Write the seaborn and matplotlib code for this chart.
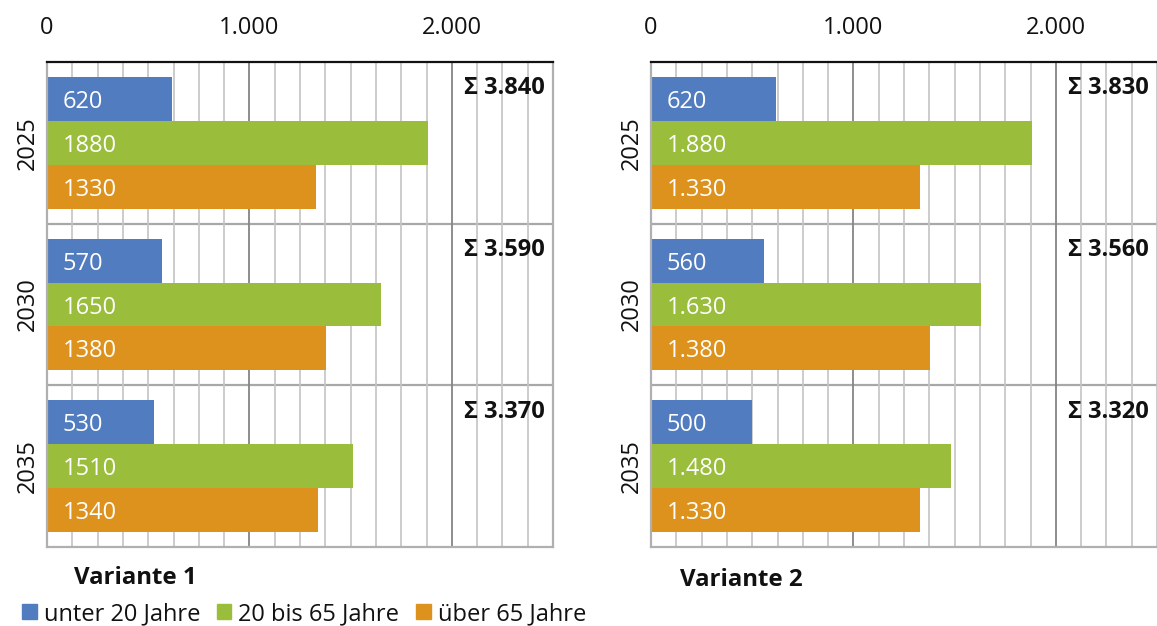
import matplotlib
matplotlib.use("Agg")
import matplotlib.pyplot as plt
from matplotlib.ticker import MultipleLocator, FixedLocator
import seaborn as sns
import pandas as pd

# ---- data ----
years = ["2025", "2030", "2035"]
groups = ["unter 20 Jahre", "20 bis 65 Jahre", "über 65 Jahre"]
colors = ["#517CC0", "#9ABD3C", "#DE921E"]

v1_unter20 = [620, 570, 530]
v1_20bis65 = [1880, 1650, 1510]
v1_ueber65 = [1330, 1380, 1340]
v1_sum = ["Σ 3.840", "Σ 3.590", "Σ 3.370"]

v2_unter20 = [620, 560, 500]
v2_20bis65 = [1880, 1630, 1480]
v2_ueber65 = [1330, 1380, 1330]
v2_sum = ["Σ 3.830", "Σ 3.560", "Σ 3.320"]

xtick_vals = [0, 1000, 2000]
xtick_labels = ["0", "1.000", "2.000"]
titles = ["Variante 1", "Variante 2"]

sns.set_theme(style="white")
plt.rcParams["font.family"] = ["Open Sans", "DejaVu Sans"]

FS = 17
W, H = 1157, 626
fig = plt.figure(figsize=(W / 100, H / 100), dpi=100)

def frame(vals_a, vals_b, vals_c):
    rows = []
    for g, vals in zip(groups, [vals_a, vals_b, vals_c]):
        for y, v in zip(years, vals):
            rows.append({"Jahr": y, "Gruppe": g, "Wert": v})
    return pd.DataFrame(rows)

def fmt_plain(v):
    return f"{v}"

def fmt_dot(v):
    return f"{v:,}".replace(",", ".")

panels = [
    (frame(v1_unter20, v1_20bis65, v1_ueber65), v1_sum, fmt_plain, 47),
    (frame(v2_unter20, v2_20bis65, v2_ueber65), v2_sum, fmt_dot, 651),
]

ax_w = (553 - 47) / W
ax_b = 1 - 547 / H
ax_h = (547 - 62) / H
axes = []
for i, (df, sums, fmt, left_px) in enumerate(panels):
    ax = fig.add_axes([left_px / W, ax_b, ax_w, ax_h])
    axes.append(ax)
    sns.barplot(data=df, y="Jahr", x="Wert", hue="Gruppe", order=years,
                hue_order=groups, palette=colors, orient="h", width=0.815,
                gap=0, saturation=1, errorbar=None, linewidth=0, ax=ax)
    ax.set_xlim(0, 2500)
    ax.set_ylim(2.5, -0.5)
    ax.set_axisbelow(True)
    # x ticks on top
    ax.xaxis.tick_top()
    ax.xaxis.set_major_locator(FixedLocator(xtick_vals))
    ax.set_xticklabels(xtick_labels, fontsize=FS, color="#111111")
    ax.xaxis.set_minor_locator(MultipleLocator(125))
    ax.tick_params(axis="x", which="both", length=0, pad=16)
    ax.grid(axis="x", which="minor", color="#c4c4c4", linewidth=1.2)
    ax.grid(axis="x", which="major", color="#858585", linewidth=1.3)
    ax.set_xlabel("")
    ax.set_ylabel("")
    ax.set_yticks(range(len(years)))
    ax.set_yticklabels(years, rotation=90, va="center", fontsize=FS, color="#111111")
    ax.tick_params(axis="y", length=0, pad=5)
    for yb in [0.5, 1.5]:
        ax.axhline(yb, color="#a8a8a8", linewidth=1.6, zorder=0.5)
    for s in ["left", "bottom", "right"]:
        ax.spines[s].set_color("#b0b0b0")
        ax.spines[s].set_linewidth(1.6)
    ax.spines["top"].set_color("#111111")
    ax.spines["top"].set_linewidth(1.6)
    if i == 1:
        ax.spines["right"].set_visible(False)
    # value labels inside bars
    for cont in ax.containers:
        for patch, val in zip(cont.patches, cont.datavalues):
            cy = patch.get_y() + patch.get_height() / 2
            ax.text(78, cy, fmt(int(val)), color="white", fontsize=FS,
                    va="center_baseline", ha="left")
    # sum labels
    for k, s in enumerate(sums):
        ax.text(2460, k - 0.5 + 0.145, s, fontsize=FS, fontweight="bold",
                ha="right", va="center_baseline", color="#111111")
    if ax.get_legend() is not None:
        ax.get_legend().remove()

fig.text(74 / W, 1 - 578 / H, titles[0], fontsize=FS + 0.3, fontweight="bold",
         ha="left", va="center", color="#111111")
fig.text(680 / W, 1 - 580 / H, titles[1], fontsize=FS + 0.3, fontweight="bold",
         ha="left", va="center", color="#111111")

handles = [plt.Rectangle((0, 0), 1, 1, color=c) for c in colors]
fig.legend(handles, groups, loc="center left", bbox_to_anchor=(22 / W, 1 - 614 / H),
           ncol=3, frameon=False, fontsize=FS, handlelength=0.62,
           handleheight=0.62, handletextpad=0.3, columnspacing=0.7,
           borderpad=0, borderaxespad=0, labelcolor="#111111")

fig.savefig("out.png", dpi=100)
